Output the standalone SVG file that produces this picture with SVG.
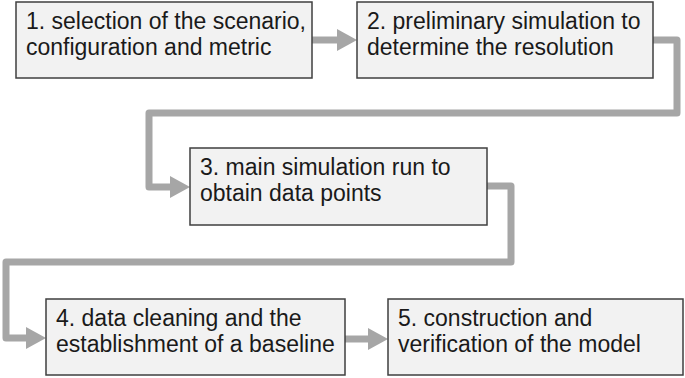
<svg xmlns="http://www.w3.org/2000/svg" width="685" height="378" viewBox="0 0 685 378">
<style>
.box{fill:#f2f2f2;stroke:#3f3f3f;stroke-width:1.5}
.t{font-family:"Liberation Sans",Arial,sans-serif;font-size:23px;fill:#1a1a1a}
.c{fill:none;stroke:#a6a6a6;stroke-width:7;stroke-linejoin:round}
</style>
<defs>
<marker id="ah" viewBox="0 0 20 22" refX="0" refY="11" markerWidth="20" markerHeight="22" markerUnits="userSpaceOnUse" orient="auto">
<path d="M0,0 L20,11 L0,22 z" fill="#a6a6a6"/>
</marker>
</defs>
<g id="connectors">
<path class="c" d="M312,40 H337" marker-end="url(#ah)"/>
<path class="c" d="M653,40 H677 V113 H149 V187 H170" marker-end="url(#ah)"/>
<path class="c" d="M487,186 H511 V262 H6 V338 H26" marker-end="url(#ah)"/>
<path class="c" d="M345,339 H368" marker-end="url(#ah)"/>
</g>
<g id="node1">
<rect class="box" x="16" y="2" width="296" height="76"/>
<text class="t" x="26" y="29">1. selection of the scenario,</text>
<text class="t" x="26" y="55">configuration and metric</text>
</g>
<g id="node2">
<rect class="box" x="357" y="2" width="296" height="76"/>
<text class="t" x="367" y="29">2. preliminary simulation to</text>
<text class="t" x="367" y="55">determine the resolution</text>
</g>
<g id="node3">
<rect class="box" x="190" y="148" width="297" height="77"/>
<text class="t" x="200" y="175">3. main simulation run to</text>
<text class="t" x="200" y="201">obtain data points</text>
</g>
<g id="node4">
<rect class="box" x="46" y="299" width="299" height="76"/>
<text class="t" x="56" y="326">4. data cleaning and the</text>
<text class="t" x="56" y="352">establishment of a baseline</text>
</g>
<g id="node5">
<rect class="box" x="388" y="299" width="295" height="76"/>
<text class="t" x="398" y="326">5. construction and</text>
<text class="t" x="398" y="352">verification of the model</text>
</g>
</svg>
